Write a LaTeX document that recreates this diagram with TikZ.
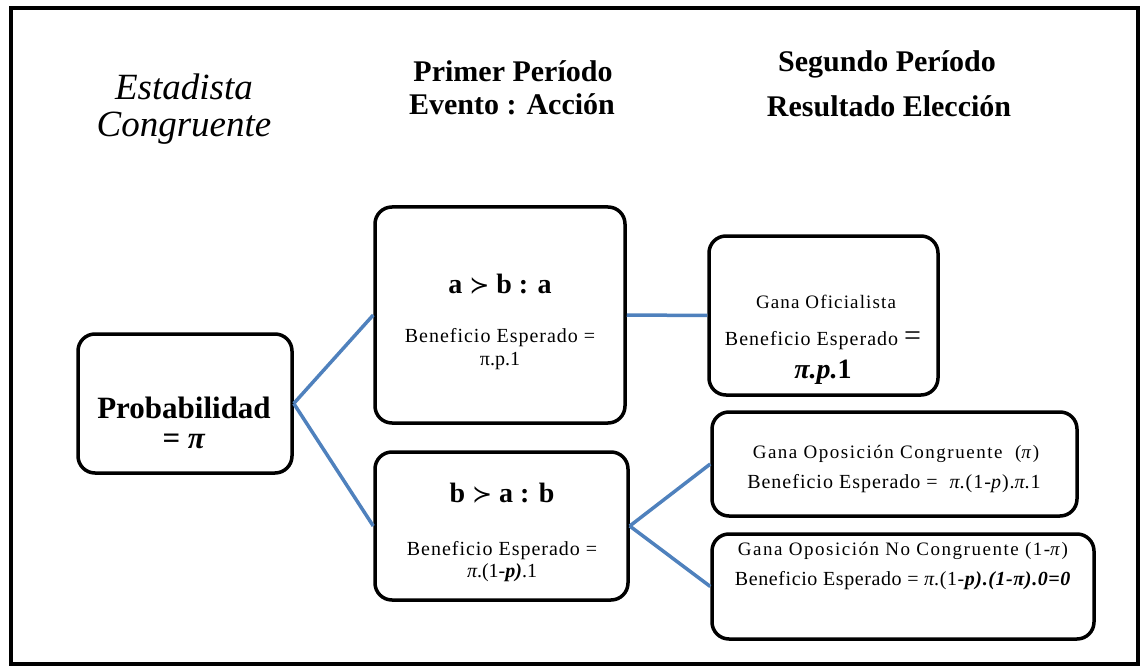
\documentclass[tikz,border=0pt]{standalone}
\usepackage{fontspec}
\setmainfont{Liberation Serif}
\newfontfamily\symfnt{DejaVu Sans}
\definecolor{linkblue}{RGB}{79,129,189}
\newcommand\setfs[1]{\fontsize{#1}{#1}\selectfont}
\newcommand\prefsym{{\symfnt\mdseries\setfs{24}≻}}
\tikzset{
  box/.style={draw=black, line width=3.5pt, rounded corners=17pt, inner sep=0pt},
  link/.style={draw=linkblue, line width=3.5pt},
  txt/.style={inner sep=0pt, anchor=base},
  frame/.style={draw=black, line width=3.5pt}
}
\begin{document}
\begin{tikzpicture}[x=1pt,y=-1pt]
\useasboundingbox (0,0) rectangle (1144,666);
\draw[frame] (11,8) rectangle (1138,664);

% headings
\node[txt] (h1a) at (184,100) {\setfs{37}\itshape Estadista};
\node[txt] (h1b) at (184,137) {\setfs{37}\itshape Congruente};
\node[txt] (h2a) at (513,82) {\setfs{30}\bfseries Primer Período};
\node[txt] (h2b) at (512,115) {\setfs{30}\bfseries Evento : Acción};
\node[txt] (h3a) at (887,72) {\setfs{30}\bfseries Segundo Período};
\node[txt] (h3b) at (889,117) {\setfs{30}\bfseries Resultado Elección};

% boxes
\node[box, minimum width=214pt, minimum height=139pt] (prob) at (185,403.5) {};
\node[box, minimum width=250pt, minimum height=216pt] (a) at (500,315) {};
\node[box, minimum width=229pt, minimum height=159pt] (ofi) at (823.5,315.5) {};
\node[box, minimum width=253pt, minimum height=148pt] (b) at (501.5,526) {};
\node[box, minimum width=365pt, minimum height=104pt] (cong) at (894.5,464) {};
\node[box, minimum width=382pt, minimum height=105pt] (nocong) at (903,586.5) {};

% connectors
\draw[link] (prob.east) -- (a.west);
\draw[link] (prob.east) -- (b.west);
\draw[link] (a.east) -- (ofi.west);
\draw[link] (b.east) -- (cong.west);
\draw[link] (b.east) -- (nocong.west);

% box texts
\node[txt] (pt1) at (184,418) {\setfs{31}\bfseries Probabilidad};
\node[txt] (pt2) at (184,448) {\setfs{31}\bfseries = \textit{π}};

\node[txt] (at1) at (500,293) {\setfs{28}\bfseries a \prefsym{} b : a};
\node[txt] (at2) at (500,342) {\setfs{20}\addfontfeature{LetterSpace=5}Beneficio Esperado =};
\node[txt] (at3) at (500,365) {\setfs{20}π.p.1};

\node[txt] (ot1) at (826,308) {\setfs{19}\addfontfeature{LetterSpace=6}Gana Oficialista};
\node[txt] (ot2) at (823,345) {\setfs{20}\addfontfeature{LetterSpace=5}Beneficio Esperado {\setfs{30}=}};
\node[txt] (ot3) at (823,378) {\setfs{28}\bfseries\textit{π.p.}1};

\node[txt] (bt1) at (502,502) {\setfs{28}\bfseries b \prefsym{} a : b};
\node[txt] (bt2) at (502,555) {\setfs{20}\addfontfeature{LetterSpace=5}Beneficio Esperado =};
\node[txt] (bt3) at (502,577) {\setfs{20}\textit{π}.(1-\textbf{\textit{p)}}.1};

\node[txt] (ct1) at (896,458) {\setfs{19}\addfontfeature{LetterSpace=8}Gana Oposición Congruente \ (\textit{π})};
\node[txt] (ct2) at (894,488) {\setfs{20}\addfontfeature{LetterSpace=5}Beneficio Esperado = \ \textit{π}.(1-\textit{p}).\textit{π}.1};

\node[txt] (nt1) at (903,555) {\setfs{19}\addfontfeature{LetterSpace=8}Gana Oposición No Congruente (1-\textit{π})};
\node[txt] (nt2) at (903,585) {\setfs{20}\addfontfeature{LetterSpace=3}Beneficio Esperado = \textit{π}.(1-\textbf{\textit{p).(1-π).0=0}}};
\end{tikzpicture}
\end{document}
